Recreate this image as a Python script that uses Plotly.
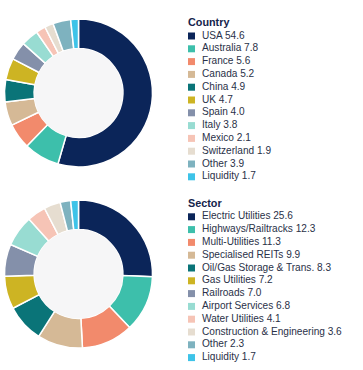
import plotly.graph_objects as go

# ---------------- data ----------------
country_labels = ["USA", "Australia", "France", "Canada", "China", "UK", "Spain",
                  "Italy", "Mexico", "Switzerland", "Other", "Liquidity"]
country_values = [54.6, 7.8, 5.6, 5.2, 4.9, 4.7, 4.0, 3.8, 2.1, 1.9, 3.9, 1.7]

sector_labels = ["Electric Utilities", "Highways/Railtracks", "Multi-Utilities",
                 "Specialised REITs", "Oil/Gas Storage & Trans.", "Gas Utilities",
                 "Railroads", "Airport Services", "Water Utilities",
                 "Construction & Engineering", "Other", "Liquidity"]
sector_values = [25.6, 12.3, 11.3, 9.9, 8.3, 7.2, 7.0, 6.8, 4.1, 3.6, 2.3, 1.7]

palette = ["#0b2559", "#3dbfab", "#f28a6c", "#d5b996", "#0a7478", "#cdb423",
           "#8490aa", "#98dcd2", "#f6c4b6", "#e6ddd0", "#7eb2bf", "#3ec3e8"]

W, H = 363, 370
FONT = "Liberation Sans, Arial, sans-serif"
TXT = "#2a3148"
TITLE = "#14234b"

fig = go.Figure()

def donut(values, labels, cx, cy, r, hole):
    fig.add_trace(go.Pie(
        values=values, labels=labels, sort=False, direction="clockwise",
        rotation=0, hole=hole, textinfo="none", showlegend=False,
        marker=dict(colors=palette, line=dict(color="white", width=1.5)),
        domain=dict(x=[(cx - r) / W, (cx + r) / W],
                    y=[1 - (cy + r) / H, 1 - (cy - r) / H]),
        hoverinfo="label+value"))
    # light centre fill
    ri = r * hole
    fig.add_trace(go.Pie(
        values=[1], labels=[""], sort=False, textinfo="none", showlegend=False,
        marker=dict(colors=["#f6f6f7"], line=dict(width=0)),
        domain=dict(x=[(cx - ri) / W, (cx + ri) / W],
                    y=[1 - (cy + ri) / H, 1 - (cy - ri) / H]),
        hoverinfo="skip"))

donut(country_values, country_labels, 78.5, 93, 74, 0.6)
donut(sector_values, sector_labels, 78.5, 274, 74, 0.6)

# ---------------- legends (drawn on an overlay axis in pixel units) ----------------
PITCH = 12.8
MX, TX = 191.5, 202

def legend(title, labels, values, y_title):
    ys = [y_title + PITCH * (i + 1) for i in range(len(labels))]
    fig.add_trace(go.Scatter(
        x=[MX] * len(labels), y=ys, mode="markers",
        marker=dict(symbol="square", size=7, color=palette, line=dict(width=0)),
        xaxis="x2", yaxis="y2", showlegend=False, hoverinfo="skip"))
    fig.add_trace(go.Scatter(
        x=[TX] * len(labels), y=ys, mode="text",
        text=[f"{l} {v:.1f}" for l, v in zip(labels, values)],
        textposition="middle right",
        textfont=dict(family=FONT, size=10.1, color=TXT),
        xaxis="x2", yaxis="y2", showlegend=False, hoverinfo="skip"))
    fig.add_trace(go.Scatter(
        x=[MX - 3.5], y=[y_title], mode="text", text=[f"<b>{title}</b>"],
        textposition="middle right",
        textfont=dict(family=FONT, size=10.8, color=TITLE),
        xaxis="x2", yaxis="y2", showlegend=False, hoverinfo="skip"))

legend("Country", country_labels, country_values, 23.2)
legend("Sector", sector_labels, sector_values, 204)

fig.update_layout(
    width=W, height=H, margin=dict(l=0, r=0, t=0, b=0),
    paper_bgcolor="white", plot_bgcolor="rgba(0,0,0,0)",
    font=dict(family=FONT),
    xaxis2=dict(range=[0, W], domain=[0, 1], visible=False, fixedrange=True),
    yaxis2=dict(range=[H, 0], domain=[0, 1], visible=False, fixedrange=True),
)

fig.write_html("out.html", config={"displayModeBar": False},
               post_script="document.body.style.margin='0';document.body.style.overflow='hidden';")
